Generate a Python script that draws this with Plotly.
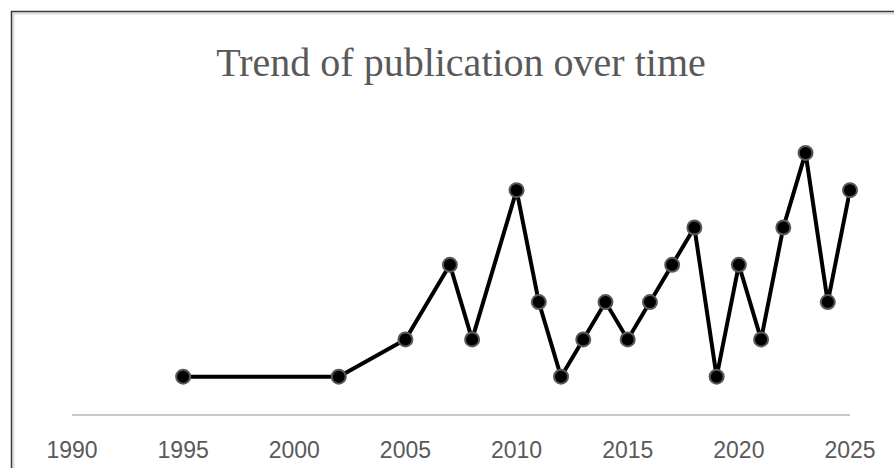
import plotly.graph_objects as go

years = [1995, 2002, 2005, 2007, 2008, 2010, 2011, 2012, 2013, 2014, 2015,
         2016, 2017, 2018, 2019, 2020, 2021, 2022, 2023, 2024, 2025]
counts = [1, 1, 2, 4, 2, 6, 3, 1, 2, 3, 2,
          3, 4, 5, 1, 4, 2, 5, 7, 3, 6]
tick_years = [1990, 1995, 2000, 2005, 2010, 2015, 2020, 2025]

W, H = 894, 468
L, R = 72, 850
T, B = 140, 414
unit = 37.3
ymax = (B - T) / unit

fig = go.Figure()
fig.add_trace(go.Scatter(
    x=years, y=counts, mode="lines+markers",
    line=dict(color="black", width=4),
    marker=dict(size=14, color="black", line=dict(color="#595959", width=2)),
    cliponaxis=False,
    hoverinfo="x+y",
))

def px_x(p):
    return (p - L) / (R - L)

def px_y(p):
    return (B - p) / (B - T)

fig.add_shape(type="rect", xref="paper", yref="paper",
              x0=px_x(13.5), x1=px_x(W + 20), y0=px_y(H + 20), y1=px_y(13.5),
              line=dict(color="#dddddd", width=2), fillcolor="rgba(0,0,0,0)", layer="below")
fig.add_shape(type="rect", xref="paper", yref="paper",
              x0=px_x(11.5), x1=px_x(W + 20), y0=px_y(H + 20), y1=px_y(11.5),
              line=dict(color="#3a3a3a", width=1.5), fillcolor="rgba(0,0,0,0)", layer="below")

fig.update_layout(
    width=W, height=H,
    margin=dict(l=L, r=W - R, t=T, b=H - B, autoexpand=False),
    paper_bgcolor="white", plot_bgcolor="white",
    showlegend=False,
    title=dict(text="Trend of publication over time", x=0.5, xref="paper",
               xanchor="center", y=1 - 62 / H, yanchor="middle", yref="container",
               font=dict(family="Liberation Serif", size=40, color="#595959")),
    xaxis=dict(range=[1990, 2025], tickvals=tick_years, ticktext=[str(t) for t in tick_years],
               showgrid=False, zeroline=False, showline=True, linecolor="#c8c8c8", linewidth=1.5,
               ticks="outside", ticklen=15, tickcolor="rgba(0,0,0,0)", automargin=False,
               tickfont=dict(family="Liberation Sans", size=23, color="#595959")),
    yaxis=dict(range=[0, ymax], showgrid=False, zeroline=False, showticklabels=False,
               showline=False, automargin=False),
)

fig.write_html("out.html")
